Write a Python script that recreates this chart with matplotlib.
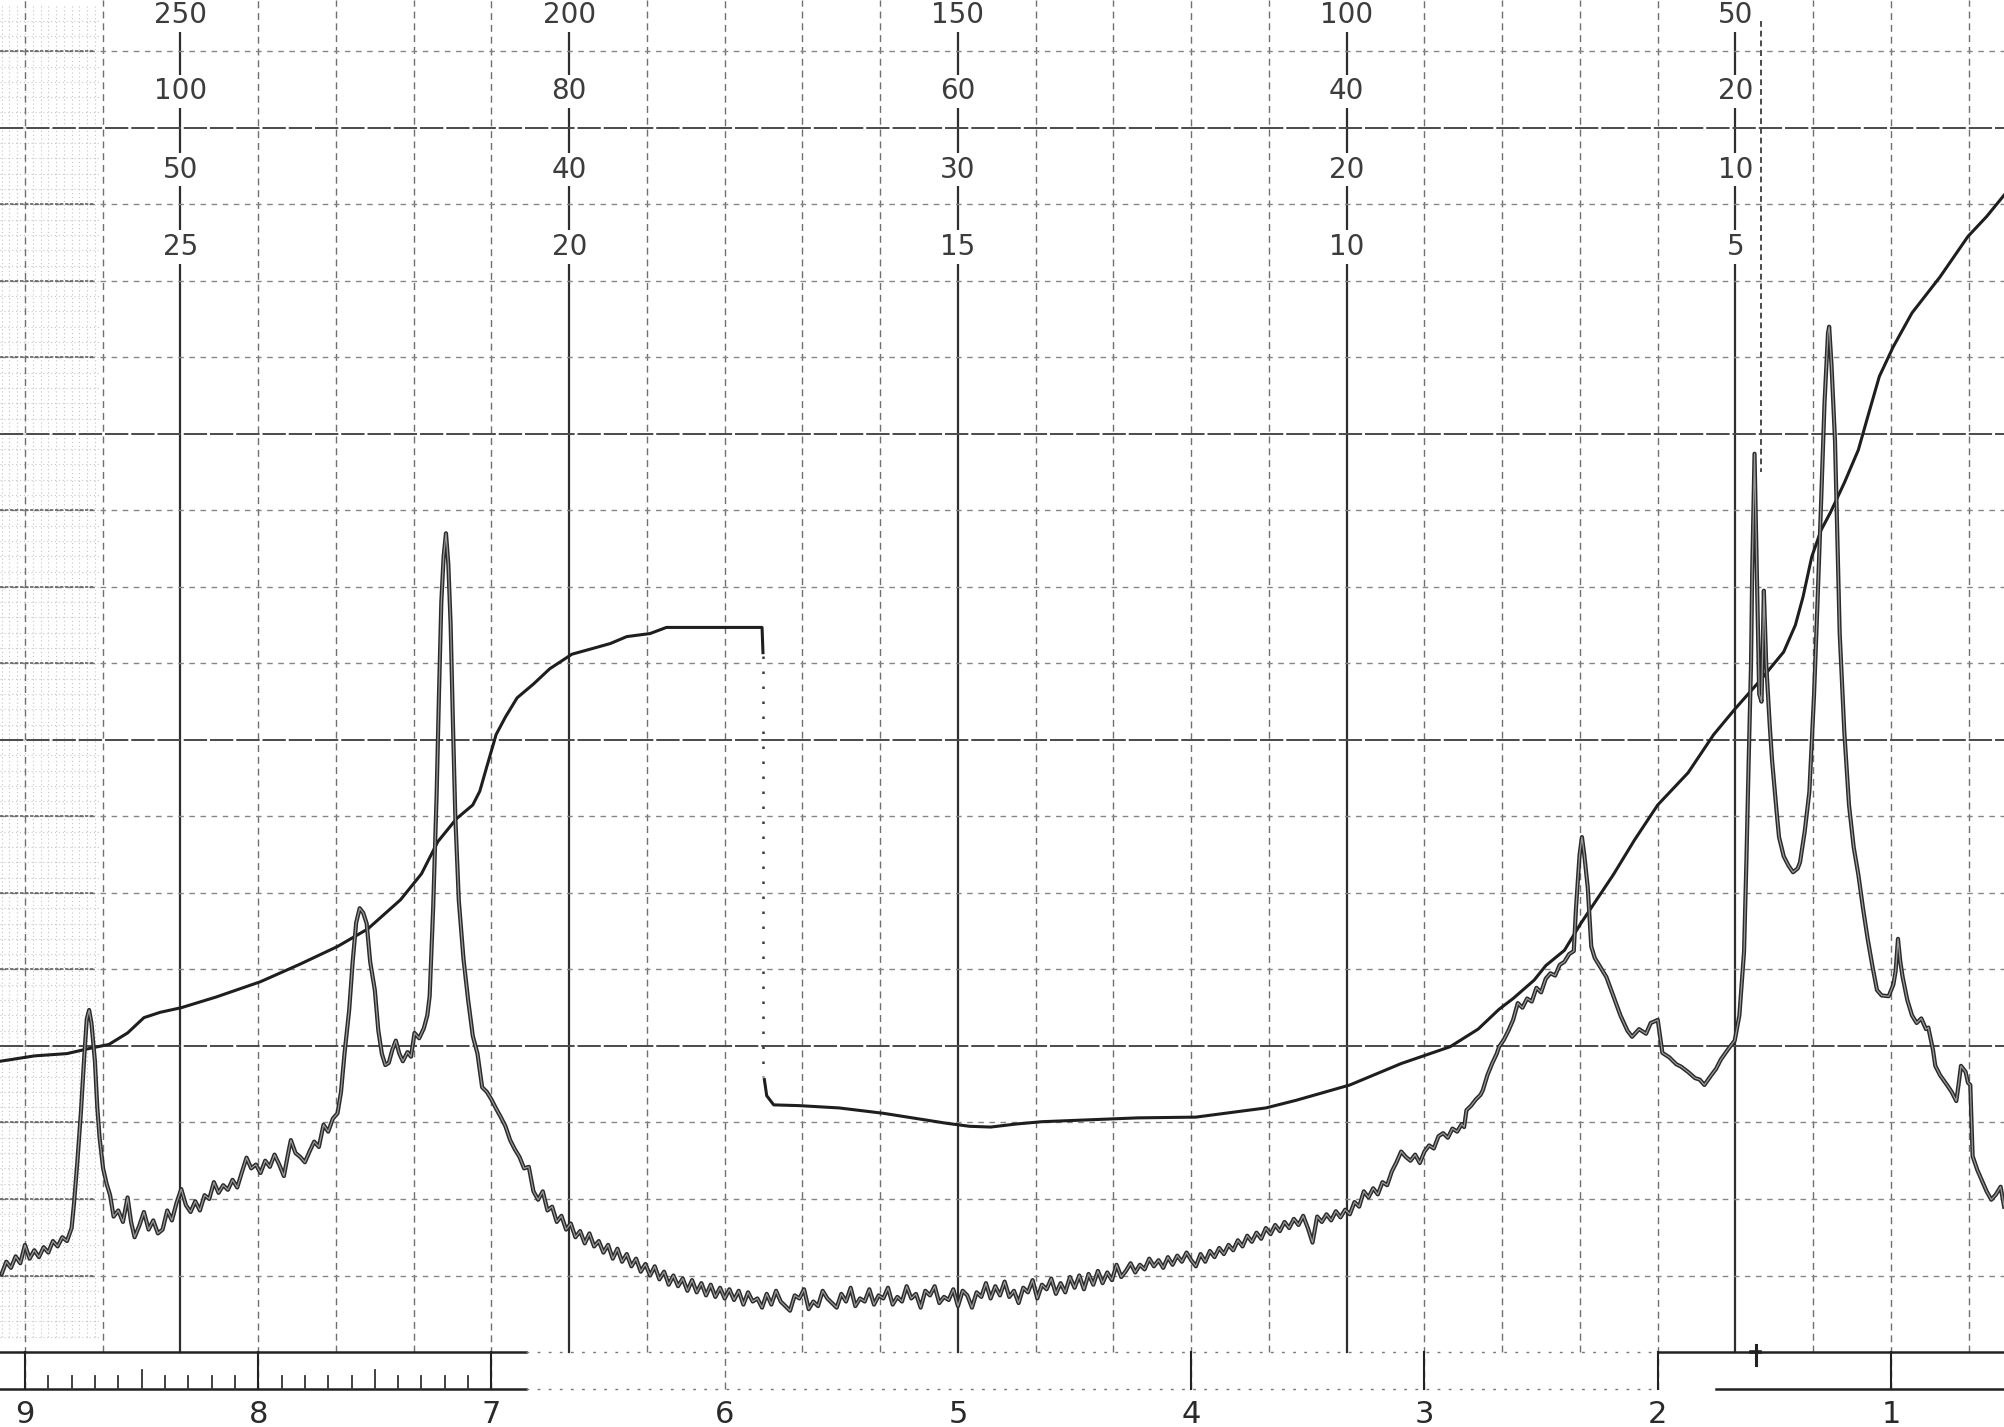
import numpy as np
import matplotlib.pyplot as plt

# --- values (x in ppm, y in chart divisions above the baseline) ---
spec_ppm = [
    9.10, 9.08, 9.06, 9.04, 9.02, 9.00, 8.98, 8.96, 8.94, 8.92,
    8.90, 8.88, 8.86, 8.84, 8.82, 8.80, 8.79, 8.775, 8.76, 8.745,
    8.735, 8.725, 8.715, 8.70, 8.69, 8.68, 8.665, 8.65, 8.635, 8.62,
    8.60, 8.58, 8.56, 8.545, 8.53, 8.51, 8.49, 8.47, 8.45, 8.43,
    8.41, 8.39, 8.37, 8.35, 8.33, 8.31, 8.29, 8.27, 8.25, 8.23,
    8.21, 8.19, 8.17, 8.15, 8.13, 8.11, 8.09, 8.07, 8.05, 8.03,
    8.01, 7.99, 7.97, 7.95, 7.93, 7.91, 7.89, 7.87, 7.86, 7.84,
    7.82, 7.80, 7.78, 7.76, 7.74, 7.72, 7.70, 7.68, 7.66, 7.645,
    7.63, 7.61, 7.595, 7.58, 7.565, 7.55, 7.535, 7.52, 7.50, 7.485,
    7.47, 7.455, 7.44, 7.425, 7.41, 7.395, 7.38, 7.36, 7.345, 7.33,
    7.31, 7.29, 7.275, 7.265, 7.25, 7.235, 7.225, 7.215, 7.205, 7.195,
    7.185, 7.175, 7.165, 7.155, 7.14, 7.12, 7.10, 7.08, 7.06, 7.04,
    7.02, 7.00, 6.98, 6.96, 6.94, 6.92, 6.90, 6.88, 6.86, 6.84,
    6.82, 6.80, 6.78, 6.76, 6.74, 6.72, 6.70, 6.68, 6.66, 6.64,
    6.62, 6.60, 6.58, 6.56, 6.54, 6.52, 6.50, 6.48, 6.46, 6.44,
    6.42, 6.40, 6.38, 6.36, 6.34, 6.32, 6.30, 6.28, 6.26, 6.24,
    6.22, 6.20, 6.18, 6.16, 6.14, 6.12, 6.10, 6.08, 6.06, 6.04,
    6.02, 6.00, 5.98, 5.96, 5.94, 5.92, 5.90, 5.88, 5.86, 5.84,
    5.82, 5.80, 5.78, 5.76, 5.74, 5.72, 5.70, 5.68, 5.66, 5.64,
    5.62, 5.60, 5.58, 5.56, 5.54, 5.52, 5.50, 5.48, 5.46, 5.44,
    5.42, 5.40, 5.38, 5.36, 5.34, 5.32, 5.30, 5.28, 5.26, 5.24,
    5.22, 5.20, 5.18, 5.16, 5.14, 5.12, 5.10, 5.08, 5.06, 5.04,
    5.02, 5.00, 4.98, 4.96, 4.94, 4.92, 4.90, 4.88, 4.86, 4.84,
    4.82, 4.80, 4.78, 4.76, 4.74, 4.72, 4.70, 4.68, 4.66, 4.64,
    4.62, 4.60, 4.58, 4.56, 4.54, 4.52, 4.50, 4.48, 4.46, 4.44,
    4.42, 4.40, 4.38, 4.36, 4.34, 4.32, 4.30, 4.28, 4.26, 4.24,
    4.22, 4.20, 4.18, 4.16, 4.14, 4.12, 4.10, 4.08, 4.06, 4.04,
    4.02, 4.00, 3.98, 3.96, 3.94, 3.92, 3.90, 3.88, 3.86, 3.84,
    3.82, 3.80, 3.78, 3.76, 3.74, 3.72, 3.70, 3.68, 3.66, 3.64,
    3.62, 3.60, 3.58, 3.56, 3.54, 3.52, 3.50, 3.48, 3.46, 3.44,
    3.42, 3.40, 3.38, 3.36, 3.34, 3.32, 3.30, 3.28, 3.26, 3.24,
    3.22, 3.20, 3.18, 3.16, 3.14, 3.12, 3.10, 3.08, 3.06, 3.04,
    3.02, 3.00, 2.98, 2.96, 2.94, 2.92, 2.90, 2.88, 2.86, 2.84,
    2.83, 2.82, 2.80, 2.78, 2.76, 2.75, 2.73, 2.71, 2.69, 2.68,
    2.66, 2.64, 2.62, 2.60, 2.58, 2.56, 2.54, 2.52, 2.50, 2.48,
    2.46, 2.44, 2.42, 2.40, 2.38, 2.36, 2.35, 2.335, 2.325, 2.315,
    2.30, 2.285, 2.27, 2.25, 2.22, 2.19, 2.16, 2.13, 2.11, 2.08,
    2.05, 2.03, 2.00, 1.98, 1.95, 1.92, 1.90, 1.87, 1.84, 1.82,
    1.80, 1.77, 1.75, 1.73, 1.70, 1.67, 1.65, 1.63, 1.62, 1.61,
    1.60, 1.595, 1.585, 1.575, 1.565, 1.555, 1.545, 1.535, 1.52, 1.51,
    1.49, 1.48, 1.46, 1.44, 1.42, 1.40, 1.39, 1.37, 1.35, 1.33,
    1.315, 1.30, 1.285, 1.27, 1.265, 1.255, 1.24, 1.22, 1.20, 1.18,
    1.16, 1.14, 1.12, 1.10, 1.08, 1.06, 1.04, 1.01, 0.99, 0.98,
    0.97, 0.96, 0.95, 0.93, 0.91, 0.89, 0.87, 0.85, 0.84, 0.82,
    0.81, 0.79, 0.76, 0.74, 0.72, 0.71, 0.70, 0.68, 0.67, 0.66,
    0.65, 0.63, 0.61, 0.59, 0.57, 0.55, 0.53, 0.515,
]
spec_int = [
    1.02, 1.18, 1.10, 1.25, 1.16, 1.40, 1.22, 1.33, 1.24, 1.37,
    1.30, 1.45, 1.38, 1.50, 1.45, 1.62, 1.93, 2.50, 3.14, 3.90,
    4.35, 4.47, 4.30, 3.80, 3.20, 2.80, 2.40, 2.20, 2.05, 1.77,
    1.85, 1.70, 2.02, 1.70, 1.50, 1.65, 1.83, 1.60, 1.72, 1.55,
    1.60, 1.85, 1.72, 1.95, 2.13, 1.92, 1.83, 1.97, 1.85, 2.05,
    2.00, 2.22, 2.08, 2.18, 2.12, 2.25, 2.15, 2.35, 2.54, 2.40,
    2.45, 2.34, 2.50, 2.42, 2.58, 2.45, 2.30, 2.62, 2.77, 2.60,
    2.55, 2.48, 2.62, 2.75, 2.68, 2.97, 2.88, 3.05, 3.12, 3.40,
    3.90, 4.47, 5.10, 5.61, 5.80, 5.74, 5.60, 5.10, 4.73, 4.20,
    3.90, 3.75, 3.78, 3.95, 4.07, 3.90, 3.80, 3.92, 3.86, 4.17,
    4.10, 4.23, 4.40, 4.65, 5.80, 7.30, 8.60, 9.80, 10.40, 10.70,
    10.30, 9.50, 8.20, 7.00, 5.90, 5.14, 4.60, 4.13, 3.90, 3.46,
    3.40, 3.30, 3.18, 3.07, 2.95, 2.77, 2.65, 2.55, 2.40, 2.42,
    2.10, 1.99, 2.10, 1.85, 1.90, 1.70, 1.78, 1.60, 1.68, 1.50,
    1.58, 1.42, 1.55, 1.38, 1.45, 1.30, 1.40, 1.22, 1.35, 1.18,
    1.28, 1.12, 1.22, 1.05, 1.15, 1.00, 1.12, 0.95, 1.05, 0.88,
    1.00, 0.86, 0.96, 0.80, 0.94, 0.78, 0.90, 0.74, 0.88, 0.72,
    0.84, 0.70, 0.82, 0.68, 0.80, 0.62, 0.78, 0.66, 0.70, 0.58,
    0.76, 0.62, 0.80, 0.66, 0.60, 0.54, 0.74, 0.70, 0.82, 0.56,
    0.66, 0.60, 0.80, 0.70, 0.64, 0.58, 0.76, 0.66, 0.84, 0.60,
    0.70, 0.66, 0.82, 0.62, 0.74, 0.70, 0.84, 0.62, 0.72, 0.66,
    0.86, 0.70, 0.76, 0.58, 0.80, 0.74, 0.86, 0.64, 0.72, 0.68,
    0.82, 0.60, 0.80, 0.74, 0.58, 0.78, 0.72, 0.90, 0.70, 0.86,
    0.74, 0.92, 0.72, 0.80, 0.64, 0.84, 0.78, 0.94, 0.70, 0.88,
    0.82, 0.96, 0.76, 0.90, 0.78, 0.98, 0.84, 1.00, 0.82, 1.02,
    0.88, 1.06, 0.90, 1.04, 0.94, 1.14, 0.98, 1.06, 1.16, 1.04,
    1.14, 1.08, 1.22, 1.12, 1.20, 1.10, 1.24, 1.14, 1.26, 1.18,
    1.30, 1.20, 1.12, 1.28, 1.18, 1.32, 1.24, 1.36, 1.28, 1.40,
    1.33, 1.46, 1.38, 1.52, 1.44, 1.56, 1.48, 1.62, 1.54, 1.66,
    1.58, 1.70, 1.62, 1.74, 1.66, 1.78, 1.62, 1.43, 1.77, 1.70,
    1.80, 1.72, 1.84, 1.76, 1.86, 1.80, 1.96, 1.90, 2.10, 2.02,
    2.14, 2.06, 2.22, 2.18, 2.36, 2.48, 2.62, 2.55, 2.50, 2.58,
    2.47, 2.62, 2.70, 2.66, 2.82, 2.86, 2.80, 2.92, 2.88, 2.98,
    2.94, 3.16, 3.22, 3.30, 3.36, 3.42, 3.62, 3.77, 3.90, 3.99,
    4.08, 4.20, 4.34, 4.56, 4.50, 4.62, 4.58, 4.76, 4.70, 4.88,
    4.95, 4.92, 5.06, 5.10, 5.20, 5.24, 5.82, 6.50, 6.73, 6.50,
    6.07, 5.30, 5.15, 5.05, 4.90, 4.65, 4.40, 4.20, 4.12, 4.22,
    4.16, 4.30, 4.34, 3.91, 3.85, 3.76, 3.73, 3.66, 3.58, 3.56,
    3.49, 3.62, 3.70, 3.82, 3.95, 4.07, 4.40, 5.23, 6.40, 7.74,
    9.00, 10.20, 11.74, 10.20, 8.60, 8.50, 9.95, 9.00, 8.20, 7.74,
    7.05, 6.73, 6.48, 6.36, 6.27, 6.32, 6.40, 6.80, 7.32, 8.58,
    9.80, 11.07, 12.40, 13.32, 13.40, 12.90, 11.91, 9.40, 8.10, 7.15,
    6.60, 6.24, 5.80, 5.40, 5.05, 4.73, 4.66, 4.65, 4.80, 4.98,
    5.40, 5.10, 4.90, 4.60, 4.40, 4.30, 4.36, 4.22, 4.24, 3.95,
    3.74, 3.62, 3.49, 3.40, 3.28, 3.50, 3.74, 3.66, 3.52, 3.49,
    2.56, 2.38, 2.24, 2.10, 1.99, 2.06, 2.16, 1.90,
]

# integral trace, first sweep (left of the reset) and second sweep
integ1_ppm = [9.107, 9.064, 8.96, 8.82, 8.72, 8.64, 8.56, 8.49, 8.42, 8.33,
              8.18, 7.99, 7.82, 7.66, 7.53, 7.39, 7.30, 7.23, 7.15, 7.08,
              7.05, 7.02, 6.98, 6.94, 6.89, 6.82, 6.75, 6.655, 6.56, 6.49,
              6.42, 6.32, 6.25, 5.84, 5.836]
integ1_val = [3.80, 3.82, 3.87, 3.90, 3.97, 4.02, 4.17, 4.37, 4.44, 4.50,
              4.64, 4.84, 5.07, 5.30, 5.53, 5.91, 6.25, 6.67, 6.97, 7.15,
              7.33, 7.65, 8.07, 8.30, 8.55, 8.73, 8.93, 9.12, 9.20, 9.26,
              9.35, 9.39, 9.47, 9.47, 9.14]
integ2_ppm = [5.83, 5.82, 5.79, 5.68, 5.51, 5.32, 5.05, 4.95, 4.86, 4.75,
              4.64, 4.23, 3.98, 3.68, 3.55, 3.32, 3.10, 2.89, 2.77, 2.68,
              2.62, 2.53, 2.48, 2.40, 2.33, 2.19, 2.10, 2.00, 1.87, 1.76,
              1.67, 1.56, 1.46, 1.41, 1.377, 1.34, 1.30, 1.26, 1.20, 1.14,
              1.10, 1.05, 0.99, 0.91, 0.79, 0.67, 0.59, 0.515]
integ2_val = [3.56, 3.35, 3.23, 3.22, 3.19, 3.12, 2.99, 2.95, 2.94, 2.98,
              3.01, 3.06, 3.07, 3.19, 3.29, 3.49, 3.77, 3.99, 4.22, 4.48,
              4.62, 4.86, 5.05, 5.25, 5.60, 6.24, 6.69, 7.15, 7.57, 8.07,
              8.40, 8.78, 9.15, 9.50, 9.87, 10.39, 10.74, 10.97, 11.36, 11.79,
              12.22, 12.75, 13.14, 13.58, 14.05, 14.58, 14.84, 15.12]

ppm_labels = ["9", "8", "7", "6", "5", "4", "3", "2", "1"]
ppm_ticks = [9, 8, 7, 6, 5, 4, 3, 2, 1]
top_rows = [["250", "200", "150", "100", "50"],
            ["100", "80", "60", "40", "20"],
            ["50", "40", "30", "20", "10"],
            ["25", "20", "15", "10", "5"]]

fig = plt.figure(figsize=(20.04, 14.27), dpi=100)
ax = fig.add_axes([0, 0, 1, 1])
ax.set_xlim(9.107, 0.5155)
ax.set_ylim(-0.98, 17.67)
ax.axis("off")

# chart paper texture on the far left
for xx in np.arange(9.10, 8.68, -1 / 30):
    ax.plot([xx, xx], [0.2, 17.6], color="#c4c4c4", lw=0.8, ls=(0, (1, 2.5)), zorder=1)
for yy in np.arange(0.2, 17.6, 0.2):
    ax.plot([9.107, 8.68], [yy, yy], color="#c8c8c8", lw=0.8, ls=(0, (1, 2.5)), zorder=1)

# vertical grid, every 1/3 ppm
major_x = []
for k in range(26):
    xx = 9 - k / 3
    ybot = -0.48 if k % 3 == 0 else 0
    if k % 5 == 2:
        major_x.append(xx)
        ax.plot([xx, xx], [0, 17.67], color="#2e2e2e", lw=1.6, zorder=2)
    else:
        ax.plot([xx, xx], [ybot, 17.67], color="#707070", lw=1.0, ls=(0, (5, 3.5)), zorder=2)

# horizontal grid
for j in range(1, 18):
    if j % 4 == 0:
        ax.plot([9.107, 0.5155], [j, j], color="#4a4a4a", lw=1.4, ls=(0, (12, 1.5)), zorder=2)
    else:
        ax.plot([9.107, 0.5155], [j, j], color="#858585", lw=1.0, ls=(0, (4, 4)), zorder=2)
        ax.plot([9.107, 8.70], [j, j], color="#666666", lw=1.2, ls=(0, (2, 1)), zorder=2)

# bottom scale
for yb in [0, -0.48]:
    ax.plot([9.107, 6.85], [yb, yb], color="#222222", lw=1.8, zorder=3)
    ax.plot([6.85, 2.0], [yb, yb], color="#777777", lw=1.0, ls=(0, (2, 6)), zorder=3)
ax.plot([2.0, 0.5155], [0, 0], color="#222222", lw=1.8, zorder=3)
ax.plot([1.75, 0.5155], [-0.48, -0.48], color="#222222", lw=1.8, zorder=3)
for t in [9, 8, 7, 4, 3, 2, 1]:
    ax.plot([t, t], [-0.48, 0], color="#222222", lw=1.5, zorder=3)
for i in range(1, 20):
    t = 9 - i * 0.1
    if i == 10:
        continue
    h = 0.24 if i in (5, 15) else 0.17
    ax.plot([t, t], [-0.48, -0.48 + h], color="#333333", lw=1.3, zorder=3)
ax.plot([1.58, 1.58], [-0.17, 0.09], color="#222222", lw=2.2, zorder=3)
ax.plot([1.60, 1.56], [0, 0], color="#222222", lw=2.6, zorder=3)

for t, s in zip(ppm_ticks, ppm_labels):
    ax.text(t, -0.93, s, ha="center", va="baseline", fontsize=22, color="#2a2a2a", zorder=4)

# sweep-width labels along the heavy lines
row_y = [17.37, 16.37, 15.35, 14.34]
for labels, yy in zip(top_rows, row_y):
    for xx, s in zip(major_x, labels):
        ax.text(xx, yy, s, ha="center", va="baseline", fontsize=20, color="#3c3c3c",
                bbox=dict(facecolor="white", edgecolor="none", pad=2), zorder=4)

# integral trace
ax.plot(integ1_ppm, integ1_val, color="#1e1e1e", lw=2.2, zorder=5)
ax.plot(integ2_ppm, integ2_val, color="#1e1e1e", lw=2.2, zorder=5)
ax.plot([5.835, 5.835], [9.1, 3.6], color="#3a3a3a", lw=1.8, ls=(0, (1, 5)), zorder=5)
ax.plot([1.557, 1.557], [17.4, 11.5], color="#4a4a4a", lw=1.4, ls=(0, (3, 2)), zorder=5)

# spectrum trace
ax.plot(spec_ppm, spec_int, color="#2a2a2a", lw=3.0, zorder=6, solid_joinstyle="round")
ax.plot(spec_ppm, spec_int, color="#9a9a9a", lw=0.9, zorder=7, solid_joinstyle="round")

fig.savefig("out.png", dpi=100, facecolor="white")
